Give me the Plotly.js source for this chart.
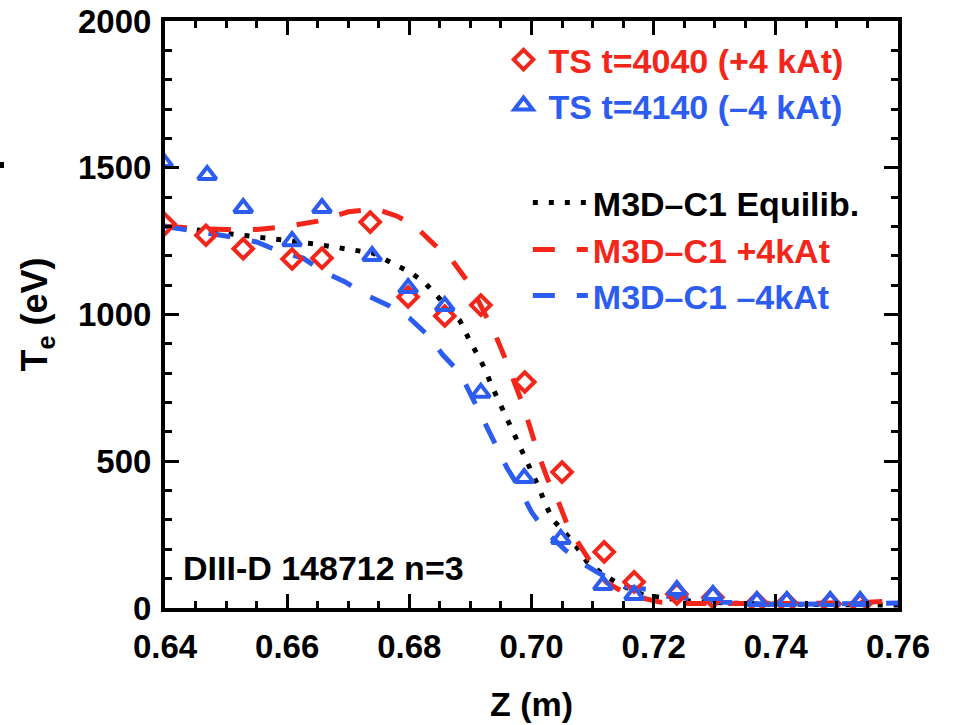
<!DOCTYPE html>
<html>
<head>
<meta charset="utf-8">
<script src="https://cdn.plot.ly/plotly-3.0.1.min.js"></script>
<style>html,body{margin:0;padding:0;background:#fff;}#chart{width:953px;height:725px;}</style>
</head>
<body>
<div id="chart"></div>
<script>
// Thomson scattering, t=4040 (+4 kAt)
var tsPlusZ  = [0.640, 0.6467, 0.6528, 0.6608, 0.6657, 0.6736, 0.6798, 0.6858, 0.6917, 0.6989, 0.7050, 0.7119, 0.7168, 0.7238, 0.7297, 0.7369, 0.7418, 0.7489, 0.7538];
var tsPlusTe = [1308, 1270, 1224, 1189, 1192, 1315, 1060, 995, 1032, 770, 463, 191, 89, 48, 36, 17, 16, 14, 12];
// Thomson scattering, t=4140 (-4 kAt)
var tsMinusZ  = [0.6397, 0.6469, 0.6528, 0.6608, 0.6657, 0.6739, 0.6798, 0.6858, 0.6917, 0.6988, 0.7048, 0.7117, 0.7168, 0.7238, 0.7297, 0.7369, 0.7418, 0.7489, 0.7538];
var tsMinusTe = [1520, 1475, 1363, 1250, 1363, 1199, 1090, 1029, 733, 443, 235, 78, 44, 61, 44, 24, 24, 24, 24];
// M3D-C1 equilibrium
var eqZ  = [0.640, 0.6457, 0.6536, 0.6592, 0.6646, 0.6700, 0.6741, 0.6777, 0.6801, 0.6826, 0.6845, 0.6883, 0.6896, 0.6911, 0.6924, 0.6935, 0.6948, 0.6961, 0.6975, 0.6986, 0.6999, 0.7011, 0.7022, 0.7035, 0.7055, 0.7074, 0.7091, 0.7120, 0.7150, 0.7183, 0.7250, 0.7320, 0.7400, 0.7500, 0.7600];
var eqTe = [1301, 1288, 1267, 1254, 1240, 1223, 1209, 1169, 1145, 1107, 1066, 978, 923, 869, 814, 756, 698, 641, 586, 528, 470, 416, 358, 300, 256, 208, 157, 110, 75, 44, 25, 17, 13, 11, 10];
// M3D-C1 +4 kAt
var plusZ  = [0.640, 0.645, 0.650, 0.655, 0.660, 0.665, 0.670, 0.6745, 0.678, 0.681, 0.684, 0.687, 0.690, 0.692, 0.694, 0.6955, 0.697, 0.6985, 0.700, 0.701, 0.7027, 0.7043, 0.706, 0.7083, 0.7107, 0.7124, 0.715, 0.718, 0.721, 0.726, 0.735, 0.745, 0.755, 0.760];
var plusTe = [1301, 1293, 1290, 1290, 1300, 1318, 1350, 1360, 1335, 1300, 1240, 1185, 1100, 1022, 935, 860, 775, 698, 600, 530, 436, 368, 276, 198, 123, 85, 55, 35, 20, 15, 14, 15, 20, 24];
// M3D-C1 -4 kAt
var minusZ  = [0.640, 0.644, 0.648, 0.651, 0.655, 0.659, 0.6626, 0.666, 0.6695, 0.673, 0.6765, 0.680, 0.683, 0.6855, 0.6883, 0.6903, 0.692, 0.694, 0.696, 0.698, 0.700, 0.7025, 0.7055, 0.7088, 0.711, 0.7156, 0.7197, 0.7227, 0.728, 0.731, 0.735, 0.740, 0.750, 0.760];
var minusTe = [1300, 1288, 1275, 1264, 1247, 1213, 1192, 1145, 1111, 1066, 1032, 988, 930, 862, 801, 719, 641, 562, 477, 409, 327, 256, 198, 147, 119, 72, 61, 37, 30, 20, 15, 12, 14, 17];

var names = ['TS t=4040 (+4 kAt)', 'TS t=4140 (–4 kAt)', 'M3D–C1 Equilib.', 'M3D–C1 +4kAt', 'M3D–C1 –4kAt'];
var RED = '#f3261b', BLUE = '#2c5cf0';
var FONT = '"Liberation Sans", Arial, Helvetica, sans-serif';

var traces = [
  {x: eqZ, y: eqTe, mode: 'lines', name: names[2], legend: 'legend3',
   line: {color: '#000', width: 5, dash: '5px,11px'}},
  {x: plusZ, y: plusTe, mode: 'lines', name: names[3], legend: 'legend4',
   line: {color: RED, width: 5, dash: '22px,22px'}},
  {x: minusZ, y: minusTe, mode: 'lines', name: names[4], legend: 'legend5',
   line: {color: BLUE, width: 5, dash: '22px,22px'}},
  {x: tsPlusZ, y: tsPlusTe, mode: 'markers', name: names[0], legend: 'legend',
   marker: {symbol: 'diamond-open', size: 15, color: RED, line: {width: 4, color: RED}}},
  {x: tsMinusZ, y: tsMinusTe, mode: 'markers', name: names[1], legend: 'legend2',
   marker: {symbol: 'triangle-up-open', size: 16, color: BLUE, line: {width: 4, color: BLUE}}}
];

function leg(y, color, x, iw) {
  return {x: x, y: y, xanchor: 'left', yanchor: 'middle', bgcolor: 'rgba(0,0,0,0)',
          borderwidth: 0, itemwidth: iw, font: {family: FONT, size: 34, color: color, weight: 'bold'}};
}

var tickFont = {family: FONT, size: 33, color: '#000', weight: 'bold'};
var layout = {
  width: 953, height: 725,
  margin: {l: 165, r: 55, t: 21, b: 117, pad: 0},
  paper_bgcolor: '#fff', plot_bgcolor: '#fff',
  showlegend: true,
  font: {family: FONT, color: '#000'},
  xaxis: {
    range: [0.64, 0.76], tick0: 0.64, dtick: 0.02, tickformat: '.2f',
    ticks: 'inside', ticklen: 14, tickwidth: 3, tickcolor: '#000',
    showline: true, linewidth: 4, linecolor: '#000', mirror: 'ticks',
    showgrid: false, zeroline: false,
    minor: {dtick: 0.005, ticks: 'inside', ticklen: 7, tickwidth: 3, tickcolor: '#000', showgrid: false},
    tickfont: tickFont, ticklabelstandoff: 6, ticklabeloverflow: 'allow',
    title: {text: 'Z (m)', font: {family: FONT, size: 34, color: '#000', weight: 'bold'}, standoff: 30}
  },
  yaxis: {
    range: [0, 2000], tick0: 0, dtick: 500,
    ticks: 'inside', ticklen: 14, tickwidth: 3, tickcolor: '#000',
    showline: true, linewidth: 4, linecolor: '#000', mirror: 'ticks',
    showgrid: false, zeroline: false,
    minor: {dtick: 100, ticks: 'inside', ticklen: 7, tickwidth: 3, tickcolor: '#000', showgrid: false},
    tickfont: tickFont, ticklabelstandoff: 3, ticklabeloverflow: 'allow',
    title: {text: 'T<sub>e</sub> (eV)', font: {family: FONT, size: 36, color: '#000', weight: 'bold'}, standoff: 20}
  },
  legend:  leg((608 - 60) / 587, RED, 0.455, 40),
  legend2: leg((608 - 106) / 587, BLUE, 0.455, 40),
  legend3: leg((608 - 203) / 587, '#000', 0.495, 55),
  legend4: leg((608 - 250) / 587, RED, 0.495, 55),
  legend5: leg((608 - 296) / 587, BLUE, 0.495, 55),
  annotations: [
    {xref: 'paper', yref: 'paper', x: (181 - 165) / 733, y: (608 - 568) / 587, xanchor: 'left', yanchor: 'middle',
     text: 'DIII-D 148712 n=3', showarrow: false, font: {family: FONT, size: 34, color: '#000', weight: 'bold'}}
  ],
  shapes: [
    {type: 'rect', xref: 'paper', yref: 'paper', x0: -165 / 733, x1: (4 - 165) / 733,
     y0: (608 - 168) / 587, y1: (608 - 162) / 587, fillcolor: '#000', line: {width: 0}}
  ]
};

Plotly.newPlot('chart', traces, layout, {staticPlot: true, displayModeBar: false});
</script>
</body>
</html>
